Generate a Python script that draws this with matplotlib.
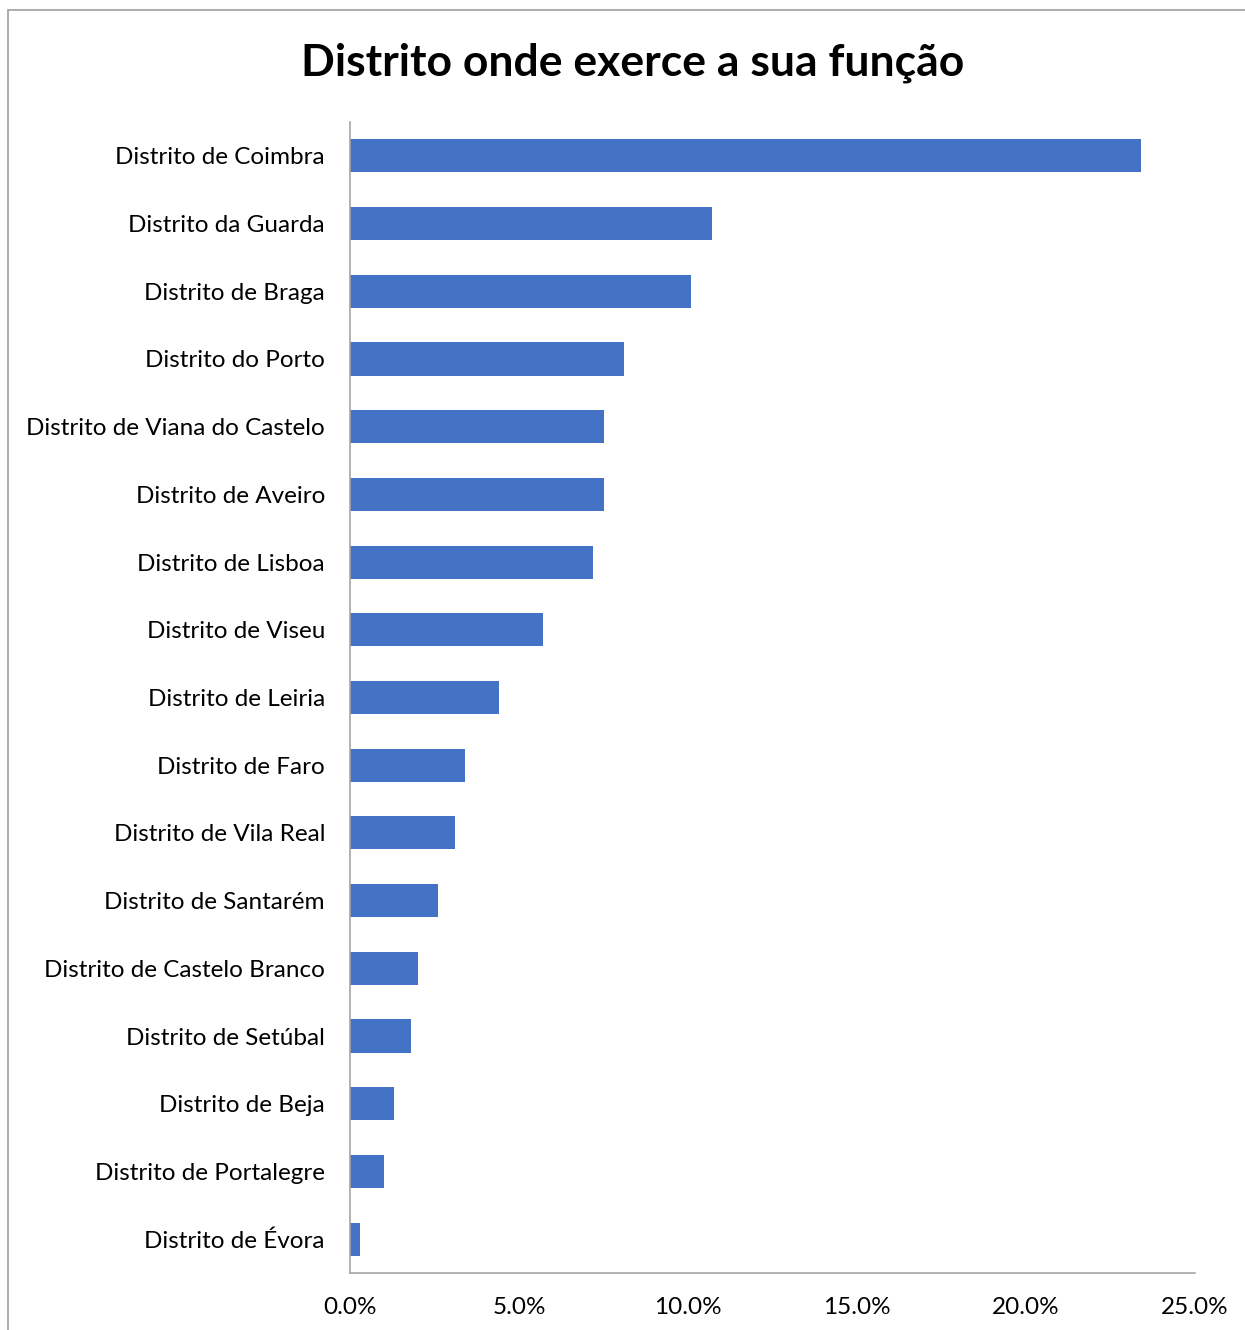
import matplotlib
matplotlib.use("Agg")
import matplotlib.pyplot as plt
from matplotlib.patches import Rectangle
from matplotlib.ticker import FuncFormatter

plt.rcParams['font.family'] = ['Lato', 'DejaVu Sans']

categories = ["Distrito de Coimbra", "Distrito da Guarda", "Distrito de Braga", "Distrito do Porto",
              "Distrito de Viana do Castelo", "Distrito de Aveiro", "Distrito de Lisboa",
              "Distrito de Viseu", "Distrito de Leiria", "Distrito de Faro", "Distrito de Vila Real",
              "Distrito de Santarém", "Distrito de Castelo Branco", "Distrito de Setúbal",
              "Distrito de Beja", "Distrito de Portalegre", "Distrito de Évora"]
values = [23.4, 10.7, 10.1, 8.1, 7.5, 7.5, 7.2, 5.7, 4.4, 3.4, 3.1, 2.6, 2.0, 1.8, 1.3, 1.0, 0.3]
xticks = [0, 5, 10, 15, 20, 25]
title = "Distrito onde exerce a sua função"

W, H = 1245, 1330
fig = plt.figure(figsize=(W/100, H/100), dpi=100)
ax = fig.add_axes([350/W, 1-1273/H, (1195-350)/W, (1273-122)/H])

y = list(range(len(categories)))
ax.barh(y, values, height=0.49, color="#4472C4")
ax.set_ylim(len(categories)-0.5, -0.5)
ax.set_xlim(0, 25)
ax.set_yticks(y)
ax.set_yticklabels(categories)
ax.set_xticks(xticks)
ax.xaxis.set_major_formatter(FuncFormatter(lambda v, p: f"{v:.1f}%"))
ax.tick_params(axis='both', length=0, labelsize=17.5, colors="#000000")
ax.tick_params(axis='y', pad=18)
ax.tick_params(axis='x', pad=17)
for s in ['top', 'right']:
    ax.spines[s].set_visible(False)
for s in ['left', 'bottom']:
    ax.spines[s].set_color("#A6A6A6")
    ax.spines[s].set_linewidth(1.2)

fig.patches.append(Rectangle((8/W, -0.01), 1.1, 1-10/H+0.01, transform=fig.transFigure,
                             fill=False, edgecolor="#A6A6A6", linewidth=1.3))
fig.text(633/W, 1-63/H, title, ha='center', va='center', fontsize=32, fontweight='bold')

fig.savefig("out.png", dpi=100)
